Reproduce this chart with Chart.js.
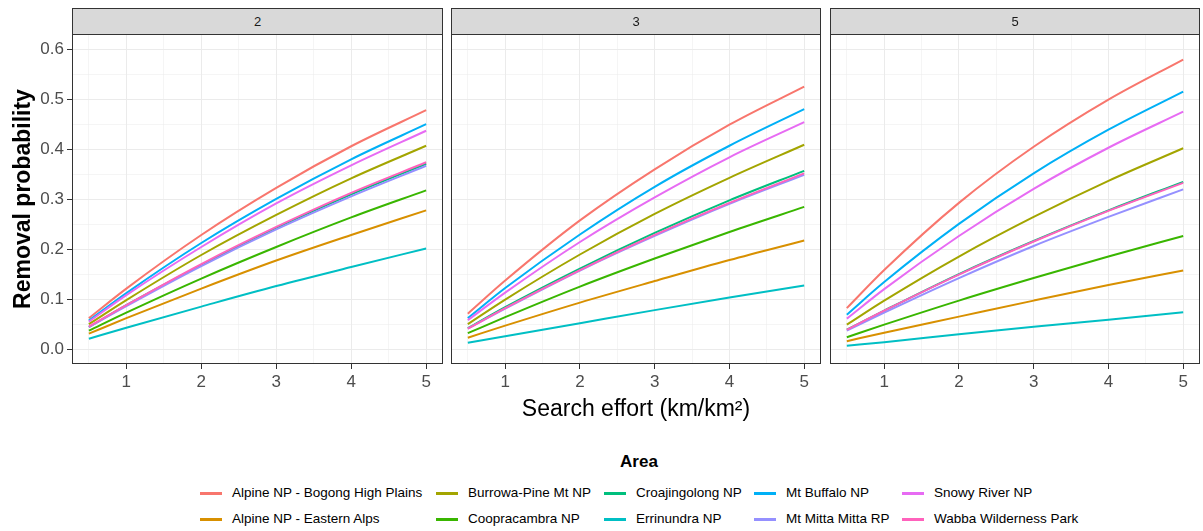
<!DOCTYPE html>
<html>
<head>
<meta charset="utf-8">
<script src="https://cdn.jsdelivr.net/npm/chart.js@4.4.0/dist/chart.umd.min.js"></script>
<style>
  body { margin: 0; background: #fff; font-family: "Liberation Sans", Arial, sans-serif; }
  #wrap { position: relative; width: 1203px; height: 531px; overflow: hidden; }
  canvas { position: absolute; top: 34px; }
  .strip { position: absolute; top: 8px; height: 27px; box-sizing: border-box; background: #D9D9D9;
           border: 1px solid #333333; font-size: 13px; color: #1A1A1A; text-align: center; line-height: 25px; }
  #legendTitle { position: absolute; top: 452px; left: 0; width: 1278px; text-align: center;
                 font-weight: bold; font-size: 17px; color: #000; }
  .key { position: absolute; width: 22px; height: 3px; }
  .lab { position: absolute; font-size: 13.5px; color: #000; white-space: nowrap; line-height: 16px; }
</style>
</head>
<body>
<div id="wrap">
  <canvas id="p0" width="444" height="400"></canvas>
  <canvas id="p1" width="372" height="400"></canvas>
  <canvas id="p2" width="372" height="400"></canvas>
  <div id="legendTitle">Area</div>
</div>
<script>
// search effort values along each curve
var effort = [0.5, 1, 2, 3, 4, 5];
var facetLabels = ['2', '3', '5'];

var areaNames = [
  'Alpine NP - Bogong High Plains',
  'Alpine NP - Eastern Alps',
  'Burrowa-Pine Mt NP',
  'Coopracambra NP',
  'Croajingolong NP',
  'Errinundra NP',
  'Mt Buffalo NP',
  'Mt Mitta Mitta RP',
  'Snowy River NP',
  'Wabba Wilderness Park'
];
var areaColours = ['#F8766D', '#D89000', '#A3A500', '#39B600', '#00BF7D',
                   '#00BFC4', '#00B0F6', '#9590FF', '#E76BF3', '#FF62BC'];

// removal probability, one row per area (same order as areaNames)
var removal2 = [
  [0.063, 0.122, 0.229, 0.323, 0.406, 0.478],
  [0.032, 0.063, 0.122, 0.178, 0.229, 0.278],
  [0.051, 0.099, 0.189, 0.269, 0.342, 0.407],
  [0.038, 0.074, 0.142, 0.205, 0.264, 0.318],
  [0.045, 0.089, 0.169, 0.243, 0.310, 0.371],
  [0.022, 0.044, 0.086, 0.127, 0.165, 0.202],
  [0.058, 0.113, 0.213, 0.301, 0.380, 0.450],
  [0.045, 0.087, 0.167, 0.240, 0.306, 0.367],
  [0.056, 0.109, 0.205, 0.292, 0.368, 0.437],
  [0.046, 0.089, 0.171, 0.245, 0.313, 0.374]
];
var removal3 = [
  [0.072, 0.138, 0.258, 0.360, 0.449, 0.525],
  [0.024, 0.048, 0.094, 0.137, 0.179, 0.218],
  [0.051, 0.100, 0.190, 0.271, 0.343, 0.409],
  [0.033, 0.065, 0.126, 0.182, 0.235, 0.285],
  [0.043, 0.085, 0.162, 0.233, 0.298, 0.357],
  [0.014, 0.027, 0.053, 0.079, 0.104, 0.128],
  [0.063, 0.123, 0.230, 0.325, 0.407, 0.480],
  [0.042, 0.082, 0.158, 0.227, 0.291, 0.349],
  [0.059, 0.114, 0.215, 0.304, 0.384, 0.454],
  [0.042, 0.083, 0.159, 0.229, 0.293, 0.352]
];
var removal5 = [
  [0.083, 0.159, 0.293, 0.405, 0.499, 0.579],
  [0.017, 0.034, 0.066, 0.098, 0.129, 0.158],
  [0.050, 0.098, 0.186, 0.265, 0.337, 0.402],
  [0.025, 0.050, 0.098, 0.143, 0.186, 0.227],
  [0.040, 0.078, 0.151, 0.217, 0.278, 0.335],
  [0.008, 0.015, 0.031, 0.046, 0.060, 0.075],
  [0.070, 0.135, 0.251, 0.352, 0.439, 0.515],
  [0.038, 0.074, 0.143, 0.207, 0.265, 0.320],
  [0.062, 0.121, 0.227, 0.321, 0.403, 0.475],
  [0.040, 0.078, 0.150, 0.216, 0.277, 0.333]
];
var facetValues = [removal2, removal3, removal5];

// panel frame (ggplot theme_bw look)
var panelBox = {
  id: 'panelBox',
  afterDraw: function(chart) {
    var a = chart.chartArea, c = chart.ctx;
    c.save();
    c.strokeStyle = '#333333';
    c.lineWidth = 1;
    c.strokeRect(Math.round(a.left) + 0.5, Math.round(a.top) + 0.5,
                 Math.round(a.right - a.left) - 1, Math.round(a.bottom - a.top) - 1);
    c.restore();
  }
};

function isWhole(v, step) {
  return Math.abs(v / step - Math.round(v / step)) < 1e-6;
}

var panelLeft = [0, 450, 829];

for (let p = 0; p < 3; p++) {
  var cv = document.getElementById('p' + p);
  cv.style.left = panelLeft[p] + 'px';

  var datasets = [];
  for (let i = 0; i < areaNames.length; i++) {
    datasets.push({
      label: areaNames[i],
      data: effort.map(function(x, k) { return { x: x, y: facetValues[p][i][k] }; }),
      borderColor: areaColours[i],
      backgroundColor: areaColours[i],
      borderWidth: 2,
      pointRadius: 0,
      cubicInterpolationMode: 'monotone',
      fill: false,
      order: areaNames.length - i   // later areas on top, like ggplot
    });
  }

  var first = (p === 0);
  var chart = new Chart(cv.getContext('2d'), {
    type: 'line',
    data: { datasets: datasets },
    plugins: [panelBox],
    options: {
      responsive: false,
      animation: false,
      layout: { padding: { left: 0, right: 1, top: 0, bottom: 0 } },
      plugins: { legend: { display: false }, tooltip: { enabled: false } },
      scales: {
        x: {
          type: 'linear',
          min: 0.275, max: 5.225,
          afterFit: function(s) { s.height = 70; s.paddingLeft = 0; s.paddingRight = 0; },
          border: { display: false },
          grid: {
            color: '#EBEBEB',
            lineWidth: function(c) { return isWhole(c.tick.value, 1) ? 1 : 0.5; },
            tickColor: function(c) { return isWhole(c.tick.value, 1) ? '#333333' : 'rgba(0,0,0,0)'; },
            tickLength: 5,
            tickWidth: 1
          },
          ticks: {
            stepSize: 0.5,
            includeBounds: false,
            autoSkip: false,
            maxRotation: 0,
            padding: 3,
            color: '#4D4D4D',
            font: { family: 'Liberation Sans', size: 17 },
            callback: function(v) { return isWhole(v, 1) ? String(v) : ''; }
          },
          title: {
            display: p === 1,
            text: 'Search effort (km/km\u00B2)',
            color: '#000',
            font: { family: 'Liberation Sans', size: 23 },
            padding: { top: 0, bottom: 11 }
          }
        },
        y: {
          type: 'linear',
          min: -0.0285, max: 0.63,
          afterFit: function(s) {
            s.width = first ? 72 : 1;
            s.paddingTop = 0;
            s.paddingBottom = 0;
          },
          border: { display: false },
          grid: {
            color: '#EBEBEB',
            lineWidth: function(c) { return isWhole(c.tick.value, 0.1) ? 1 : 0.5; },
            tickColor: function(c) { return isWhole(c.tick.value, 0.1) ? '#333333' : 'rgba(0,0,0,0)'; },
            drawTicks: first,
            tickLength: 5,
            tickWidth: 1
          },
          ticks: {
            display: first,
            stepSize: 0.05,
            includeBounds: false,
            autoSkip: false,
            padding: 3,
            color: '#4D4D4D',
            font: { family: 'Liberation Sans', size: 17 },
            callback: function(v) { return isWhole(v, 0.1) ? v.toFixed(1) : ''; }
          },
          title: {
            display: first,
            text: 'Removal probability',
            color: '#000',
            font: { family: 'Liberation Sans', size: 23, weight: 'bold' },
            padding: { top: 10, bottom: 0 }
          }
        }
      }
    }
  });

  // facet strip above the panel
  var a = chart.chartArea;
  var strip = document.createElement('div');
  strip.className = 'strip';
  strip.style.left = (panelLeft[p] + Math.round(a.left)) + 'px';
  strip.style.width = Math.round(a.right - a.left) + 'px';
  strip.textContent = facetLabels[p];
  document.getElementById('wrap').appendChild(strip);
}

// legend: two rows, filled column by column
var wrap = document.getElementById('wrap');
var colText = [232, 468, 636, 786, 934];
var rowMid = [493, 519];
for (let i = 0; i < areaNames.length; i++) {
  var col = Math.floor(i / 2), row = i % 2;
  var k = document.createElement('div');
  k.className = 'key';
  k.style.background = areaColours[i];
  k.style.left = (colText[col] - 32) + 'px';
  k.style.top = (rowMid[row] - 1) + 'px';
  wrap.appendChild(k);
  var t = document.createElement('div');
  t.className = 'lab';
  t.textContent = areaNames[i];
  t.style.left = colText[col] + 'px';
  t.style.top = (rowMid[row] - 8) + 'px';
  wrap.appendChild(t);
}
</script>
</body>
</html>
